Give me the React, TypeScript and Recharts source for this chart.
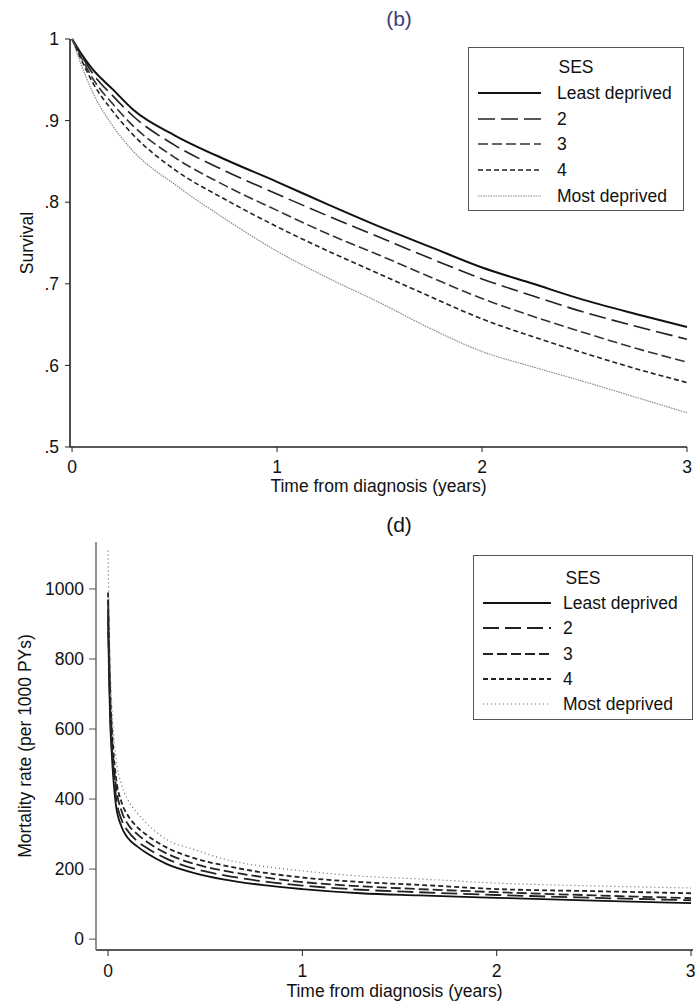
import { LineChart, Line, XAxis, YAxis, Label } from 'recharts'

// (b) survival by SES
const TIME_B = [0, 0.05, 0.1, 0.2, 0.3, 0.5, 0.75, 1, 1.25, 1.5, 1.75, 2, 2.25, 2.5, 2.75, 3]
const SURV_LD = [1, 0.98, 0.963, 0.938, 0.913, 0.882, 0.852, 0.825, 0.797, 0.77, 0.745, 0.72, 0.7, 0.68, 0.663, 0.647]
const SURV_2 = [1, 0.978, 0.958, 0.93, 0.905, 0.87, 0.838, 0.81, 0.783, 0.757, 0.731, 0.706, 0.685, 0.665, 0.648, 0.632]
const SURV_3 = [1, 0.975, 0.952, 0.92, 0.893, 0.855, 0.82, 0.79, 0.761, 0.735, 0.708, 0.682, 0.66, 0.64, 0.621, 0.604]
const SURV_4 = [1, 0.972, 0.947, 0.911, 0.882, 0.84, 0.803, 0.77, 0.74, 0.712, 0.684, 0.657, 0.635, 0.615, 0.596, 0.579]
const SURV_MD = [1, 0.965, 0.935, 0.893, 0.862, 0.822, 0.779, 0.74, 0.707, 0.677, 0.645, 0.617, 0.598, 0.58, 0.561, 0.542]

// (d) mortality rate per 1000 PYs
const TIME_D = [0, 0.005, 0.01, 0.02, 0.03, 0.04, 0.07, 0.1, 0.15, 0.2, 0.3, 0.45, 0.6, 0.8, 1, 1.3, 1.6, 2, 2.5, 3]
const RATE_LD = [910, 760, 640, 520, 440, 385, 320, 290, 265, 245, 215, 188, 170, 154, 143, 131, 125, 118, 110, 103]
const RATE_2 = [940, 790, 670, 545, 465, 410, 340, 310, 280, 260, 230, 200, 182, 165, 153, 141, 134, 126, 118, 111]
const RATE_3 = [970, 820, 700, 575, 495, 440, 365, 330, 300, 278, 245, 214, 195, 177, 163, 151, 143, 134, 125, 117]
const RATE_4 = [990, 850, 730, 600, 520, 465, 390, 355, 320, 297, 262, 230, 210, 190, 176, 163, 155, 143, 137, 131]
const RATE_MD = [1110, 930, 800, 660, 575, 520, 440, 400, 360, 330, 285, 255, 228, 208, 195, 180, 172, 160, 152, 146]

const SES_LABELS = ['Least deprived', '2', '3', '4', 'Most deprived']
const KEYS = ['ld', 's2', 's3', 's4', 'md']

const X_TICKS = [0, 1, 2, 3]
const SURV_TICKS = [0.5, 0.6, 0.7, 0.8, 0.9, 1]
const RATE_TICKS = [0, 200, 400, 600, 800, 1000]

const survData = TIME_B.map((t, i) => ({
  t, ld: SURV_LD[i], s2: SURV_2[i], s3: SURV_3[i], s4: SURV_4[i], md: SURV_MD[i],
}))
const rateData = TIME_D.map((t, i) => ({
  t, ld: RATE_LD[i], s2: RATE_2[i], s3: RATE_3[i], s4: RATE_4[i], md: RATE_MD[i],
}))

const FONT = '"Liberation Sans", Arial, Helvetica, sans-serif'
const FS = 17.5

type LineStyle = { stroke: string; width: number; dash?: string }

const STYLE_B: LineStyle[] = [
  { stroke: '#111', width: 2 },
  { stroke: '#222', width: 1.6, dash: '17 6' },
  { stroke: '#333', width: 1.6, dash: '10 4' },
  { stroke: '#222', width: 1.6, dash: '5 3' },
  { stroke: '#888', width: 1.2, dash: '1.5 1' },
]
const STYLE_D: LineStyle[] = [
  { stroke: '#111', width: 1.8 },
  { stroke: '#222', width: 1.8, dash: '16 6' },
  { stroke: '#222', width: 1.8, dash: '10 4' },
  { stroke: '#222', width: 1.8, dash: '5 3' },
  { stroke: '#666', width: 1.2, dash: '1 3' },
]

const tickStyle = { fontSize: FS, fill: '#111', fontFamily: FONT }
const labelStyle = { fontSize: FS, fill: '#111', fontFamily: FONT, textAnchor: 'middle' as const }

function fmtSurv(v: number) {
  return v === 1 ? '1' : String(v).replace(/^0\./, '.')
}

// legend box, coordinates given in page pixels
function SesLegend({ left, top, width, height, lineX, lineW, textX, rowTop, rowGap, styles }: {
  left: number; top: number; width: number; height: number; lineX: number; lineW: number
  textX: number; rowTop: number; rowGap: number; styles: LineStyle[]
}) {
  return (
    <div style={{
      position: 'absolute', left, top, width, height, border: '1px solid #555',
      background: '#fff', boxSizing: 'border-box', fontFamily: FONT, fontSize: FS, color: '#111',
    }}>
      <div style={{ position: 'absolute', left: 0, width: '100%', top: rowTop - rowGap - 11 - top, textAlign: 'center', lineHeight: '22px' }}>
        SES
      </div>
      {SES_LABELS.map((name, i) => {
        const y = rowTop + i * rowGap - top
        const s = styles[i]
        return (
          <div key={name}>
            <svg style={{ position: 'absolute', left: lineX - left, top: y - 5 }} width={lineW} height={10}>
              <line x1={0} x2={lineW} y1={5} y2={5} stroke={s.stroke} strokeWidth={s.width} strokeDasharray={s.dash} />
            </svg>
            <div style={{ position: 'absolute', left: textX - left, top: y - 11, lineHeight: '22px', whiteSpace: 'nowrap' }}>
              {name}
            </div>
          </div>
        )
      })}
    </div>
  )
}

export default function App() {
  return (
    <div style={{ position: 'absolute', left: 0, top: 0, width: 695, height: 1005, background: '#fff', fontFamily: FONT }}>
      <div style={{ position: 'absolute', top: 7, left: 359, width: 80, textAlign: 'center', fontSize: 21, color: '#3d3b7d' }}>(b)</div>
      <div style={{ position: 'absolute', top: 0, left: 0 }}>
        <LineChart width={695} height={500} data={survData} margin={{ top: 39, right: 8, bottom: 3, left: 20 }}>
          <XAxis
            type="number" dataKey="t" domain={[-0.01, 3]} ticks={X_TICKS} height={50}
            tick={tickStyle} tickSize={5} tickMargin={9}
            axisLine={{ stroke: '#222', strokeWidth: 1.6 }} tickLine={{ stroke: '#222' }}
          >
            <Label value="Time from diagnosis (years)" position="insideBottom" offset={5} style={labelStyle} />
          </XAxis>
          <YAxis
            type="number" domain={[0.5, 1]} ticks={SURV_TICKS} width={50} tickFormatter={fmtSurv}
            tick={tickStyle} tickSize={5} tickMargin={6}
            axisLine={{ stroke: '#222', strokeWidth: 1.6 }} tickLine={{ stroke: '#222' }}
          >
            <Label value="Survival" angle={-90} position="insideLeft" offset={7} style={labelStyle} />
          </YAxis>
          {KEYS.map((k, i) => (
            <Line key={k} dataKey={k} type="monotone" dot={false} isAnimationActive={false}
              stroke={STYLE_B[i].stroke} strokeWidth={STYLE_B[i].width} strokeDasharray={STYLE_B[i].dash} />
          ))}
        </LineChart>
      </div>
      <SesLegend left={468} top={47} width={216} height={164} lineX={477} lineW={63} textX={556}
        rowTop={92} rowGap={25.7} styles={STYLE_B} />

      <div style={{ position: 'absolute', top: 513, left: 359, width: 80, textAlign: 'center', fontSize: 21, color: '#111' }}>(d)</div>
      <div style={{ position: 'absolute', top: 500, left: 0 }}>
        <LineChart width={695} height={505} data={rateData} margin={{ top: 42, right: 2, bottom: 5, left: 10 }}>
          <XAxis
            type="number" dataKey="t" domain={[-0.062, 3.01]} ticks={X_TICKS} height={50}
            tick={tickStyle} tickSize={6} tickMargin={9}
            axisLine={{ stroke: '#222', strokeWidth: 1.6 }} tickLine={{ stroke: '#222' }}
          >
            <Label value="Time from diagnosis (years)" position="insideBottom" offset={3} style={labelStyle} />
          </XAxis>
          <YAxis
            type="number" domain={[-31, 1134]} ticks={RATE_TICKS} width={86}
            tick={tickStyle} tickSize={7} tickMargin={5}
            axisLine={{ stroke: '#777', strokeWidth: 1.6 }} tickLine={{ stroke: '#555' }}
          >
            <Label value="Mortality rate (per 1000 PYs)" angle={-90} position="insideLeft" offset={15} style={labelStyle} />
          </YAxis>
          {KEYS.map((k, i) => (
            <Line key={k} dataKey={k} type="monotone" dot={false} isAnimationActive={false}
              stroke={STYLE_D[i].stroke} strokeWidth={STYLE_D[i].width} strokeDasharray={STYLE_D[i].dash} />
          ))}
        </LineChart>
      </div>
      <SesLegend left={473} top={555} width={220} height={165} lineX={482} lineW={68} textX={562}
        rowTop={602} rowGap={25.3} styles={STYLE_D} />
    </div>
  )
}
